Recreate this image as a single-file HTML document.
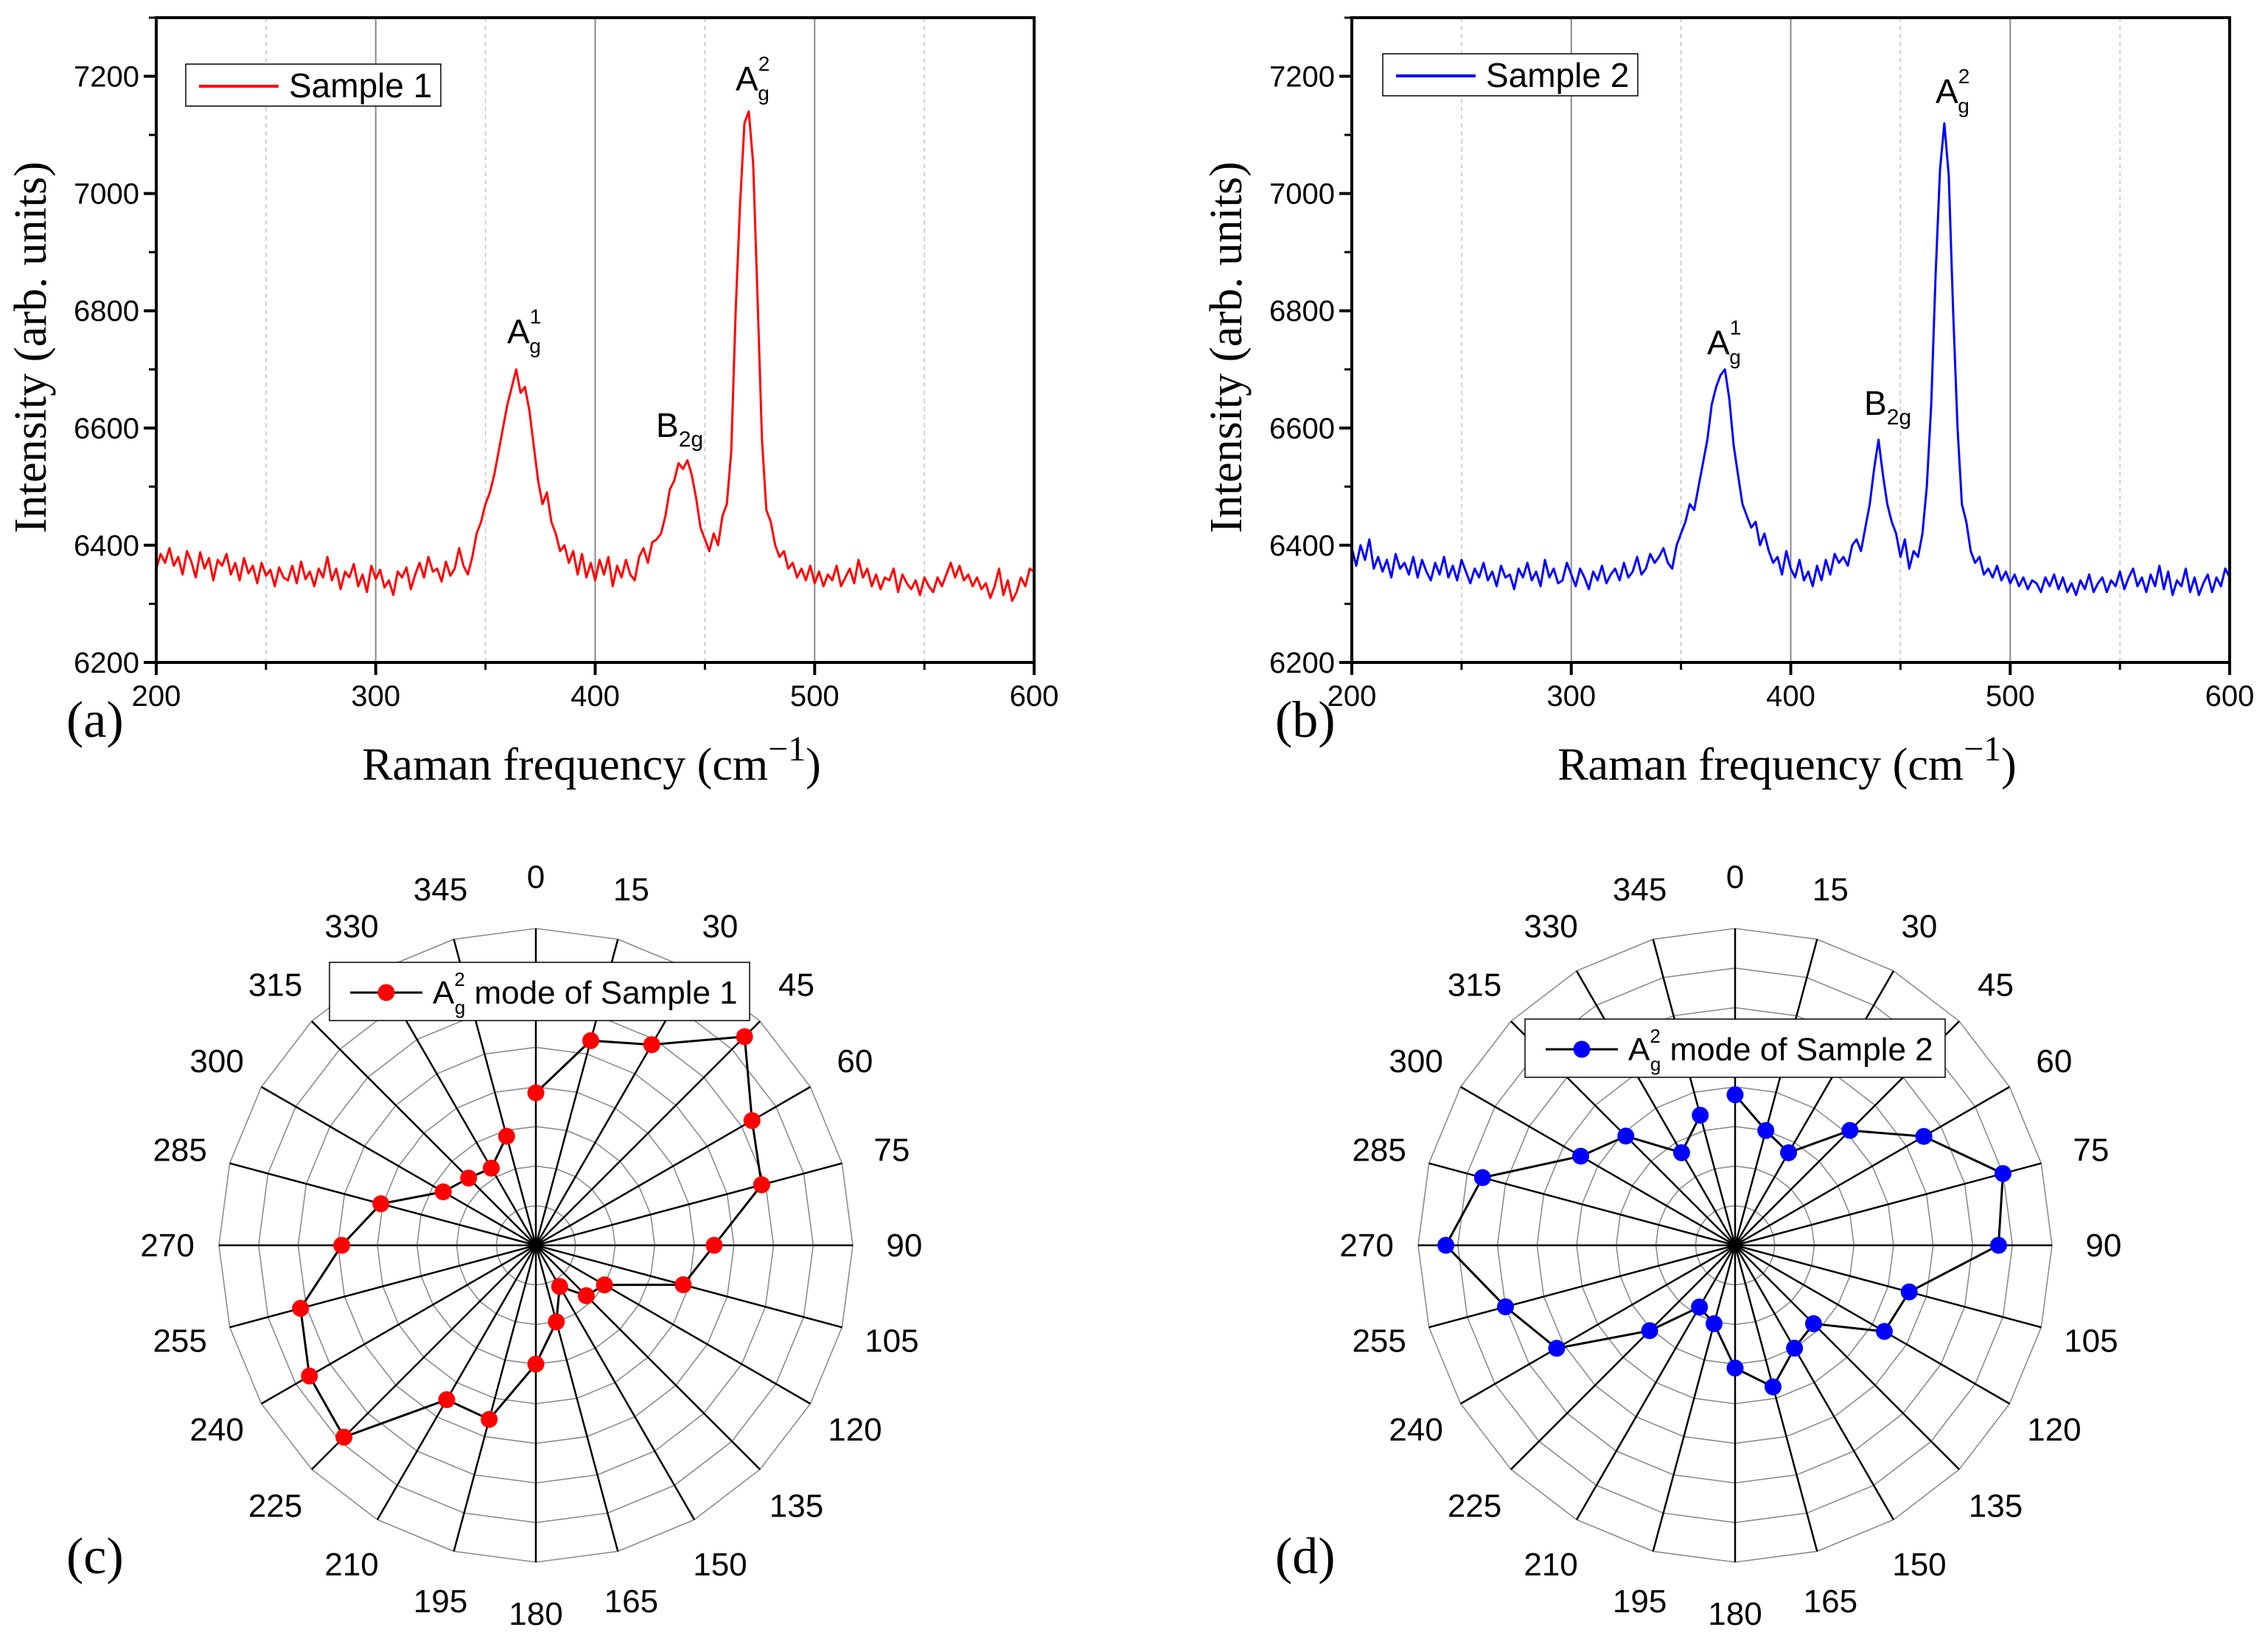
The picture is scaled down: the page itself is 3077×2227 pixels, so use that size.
<!DOCTYPE html>
<html><head><meta charset="utf-8"><style>
html,body{margin:0;padding:0;background:#fff;}
svg{display:block;}
text{font-family:"Liberation Sans",sans-serif;fill:#000;}
.serif{font-family:"Liberation Serif",serif;}
</style></head><body>
<svg id="fig" width="3077" height="2227" viewBox="0 0 3077 2227" xmlns="http://www.w3.org/2000/svg"></svg>
<script>
// ---------- data ----------
const xStart = 200, xStep = 2;
const sample1 = [
6360,6385,6370,6395,6365,6380,6350,6390,6372,6345,6388,6360,6378,6340,6375,6365,6385,6350,6370,6340,
6378,6352,6365,6335,6370,6348,6358,6330,6362,6345,6340,6365,6335,6372,6342,6355,6330,6360,6345,6380,
6340,6360,6325,6355,6345,6368,6330,6350,6320,6365,6342,6358,6328,6340,6315,6355,6345,6362,6325,6350,
6370,6345,6380,6355,6360,6338,6372,6348,6360,6395,6365,6350,6380,6420,6440,6470,6490,6520,6560,6600,
6640,6670,6700,6660,6670,6630,6570,6510,6470,6490,6440,6420,6390,6400,6370,6390,6350,6385,6345,6370,
6340,6375,6350,6380,6330,6365,6345,6375,6350,6340,6380,6395,6370,6405,6410,6420,6450,6495,6510,6540,
6530,6545,6520,6480,6430,6410,6390,6420,6400,6450,6470,6560,6800,6980,7120,7140,7050,6820,6580,6460,
6440,6400,6380,6390,6360,6370,6345,6360,6340,6365,6335,6355,6330,6350,6340,6365,6330,6345,6360,6335,
6375,6345,6360,6330,6350,6325,6345,6340,6360,6320,6350,6335,6325,6340,6315,6345,6330,6320,6345,6330,
6350,6370,6345,6365,6340,6350,6330,6345,6325,6335,6310,6330,6360,6315,6340,6305,6320,6345,6330,6360,
6355];
const sample2 = [
6395,6365,6400,6375,6410,6360,6380,6355,6375,6345,6385,6360,6370,6350,6380,6345,6375,6355,6340,6370,
6350,6380,6345,6365,6340,6375,6355,6335,6360,6345,6370,6340,6355,6330,6365,6345,6350,6325,6360,6345,
6370,6340,6355,6330,6375,6345,6360,6335,6340,6370,6350,6330,6360,6345,6325,6355,6340,6365,6335,6350,
6360,6340,6370,6345,6355,6380,6350,6360,6385,6370,6380,6395,6370,6360,6400,6420,6440,6470,6460,6500,
6540,6580,6640,6670,6690,6700,6650,6570,6520,6470,6450,6430,6440,6400,6420,6390,6370,6380,6350,6390,
6360,6345,6375,6340,6355,6330,6365,6340,6375,6350,6385,6370,6380,6365,6400,6410,6390,6430,6470,6530,
6580,6520,6470,6440,6420,6380,6410,6360,6390,6380,6420,6500,6640,6860,7040,7120,7030,6800,6600,6470,
6440,6390,6370,6380,6350,6360,6345,6365,6340,6355,6335,6350,6330,6345,6325,6340,6335,6320,6345,6330,
6350,6325,6345,6320,6335,6315,6340,6325,6350,6320,6335,6345,6320,6340,6330,6355,6325,6345,6360,6330,
6345,6320,6350,6330,6365,6325,6355,6315,6340,6330,6360,6320,6345,6315,6335,6350,6320,6345,6330,6360,
6345];
const xTicks = [200,300,400,500,600];
const yTicks = [6200,6400,6600,6800,7000,7200];
const polarAngles = [0,15,30,45,60,75,90,105,120,135,150,165,180,195,210,225,240,255,270,285,300,315,330,345];
const polarC = [3.85,5.35,5.85,7.45,6.3,5.9,4.5,3.85,2.0,1.8,1.2,2.0,3.0,4.55,4.5,6.85,6.6,6.15,4.9,4.05,2.7,2.4,2.25,2.85];
const polarD = [3.8,3.0,2.7,4.1,5.5,7.0,6.65,4.55,4.35,2.8,3.0,3.7,3.1,2.05,1.8,3.05,5.2,6.0,7.3,6.6,4.5,3.9,2.7,3.4];

// ---------- helpers ----------
const NS = "http://www.w3.org/2000/svg";
const svg = document.getElementById('fig');
function mk(tag, attrs, parent, txt){
  const e = document.createElementNS(NS, tag);
  for (const k in attrs) e.setAttribute(k, attrs[k]);
  if (txt !== undefined) e.textContent = txt;
  (parent||svg).appendChild(e);
  return e;
}

function spectrum(cfg){
  const g = mk('g', {});
  
  
  const L=cfg.L,R=cfg.R,T=cfg.T,B=cfg.B;
  const sx = v => L + (v-200)/(600-200)*(R-L);
  const sy = v => B - (v-6200)/(7300-6200)*(B-T);
  [300,400,500].forEach(v=>{
    const l = mk('line',{x1:sx(v),x2:sx(v),y1:T,y2:B,stroke:'#8a8a8a','stroke-width':2},g);
    
    
  });
  [250,350,450,550].forEach(v=>{
    const l = mk('line',{x1:sx(v),x2:sx(v),y1:T,y2:B,stroke:'#c4c4c4','stroke-width':1.5,'stroke-dasharray':'6 5'},g);
    
    
  });
  let d='';
  cfg.data.forEach((v,i)=>{ d += (i?'L':'M') + sx(xStart+i*xStep).toFixed(1)+','+sy(v).toFixed(1); });
  const p = mk('path',{d:d,fill:'none',stroke:cfg.color,'stroke-width':3,'stroke-linejoin':'round'},g);
  
  
  const fr = mk('rect',{x:L,y:T,width:R-L,height:B-T,fill:'none',stroke:'#000','stroke-width':4},g);
  
  
  for (let v=200; v<=600; v+=50){
    const major = v%100===0;
    mk('line',{x1:sx(v),x2:sx(v),y1:B,y2:B+(major?17:10),stroke:'#000','stroke-width':major?4:3},g);
  }
  xTicks.forEach(v=>{
    const t = mk('text',{x:sx(v),y:B+59,'font-size':40,'text-anchor':'middle'},g,String(v));
    
    
  });
  for (let v=6200; v<=7300; v+=100){
    const major = v%200===0;
    mk('line',{x1:L,x2:L-(major?17:10),y1:sy(v),y2:sy(v),stroke:'#000','stroke-width':major?4:3},g);
  }
  yTicks.forEach(v=>{
    const t = mk('text',{x:L-23,y:sy(v)+14,'font-size':40,'text-anchor':'end'},g,String(v));
    
    
  });
  const yt = mk('text',{x:0,y:0,'font-size':62,'text-anchor':'middle','class':'serif',transform:`translate(${cfg.yTitleX},${(T+B)/2+10}) rotate(-90)`},g,'Intensity (arb. units)');
  
  
  const xt = mk('text',{x:(L+R)/2-5,y:1058,'font-size':62,'text-anchor':'middle','class':'serif'},g);
  
  
  mk('tspan',{},xt,'Raman frequency (cm');
  mk('tspan',{dy:-26,'font-size':48},xt,'\u22121');
  mk('tspan',{dy:26},xt,')');
  const pl = mk('text',{x:cfg.panelX,y:1000,'font-size':70,'class':'serif'},g,cfg.panel);
  
  
  const lg = mk('g',{},g);
  
  
  mk('rect',{x:cfg.legX,y:cfg.legY,width:346,height:57,fill:'#fff',stroke:'#000','stroke-width':1.5},lg);
  mk('line',{x1:cfg.legX+18,x2:cfg.legX+126,y1:cfg.legY+30,y2:cfg.legY+30,stroke:cfg.color,'stroke-width':4},lg);
  const lt = mk('text',{x:cfg.legX+140,y:cfg.legY+45,'font-size':46},lg,cfg.legText);
  
  
  cfg.peaks.forEach(pk=>{
    const t = mk('text',{x:pk.x,y:pk.y,'font-size':46},g);
    
    
    mk('tspan',{},t,pk.main);
    if (pk.sup){
      mk('tspan',{dy:-27,'font-size':28},t,pk.sup);
      mk('tspan',{dx:-16,dy:40,'font-size':28},t,pk.sub);
    } else {
      mk('tspan',{dy:13,'font-size':30},t,pk.sub);
    }
  });
}

spectrum({name:'spectrum-panel-a',seriesName:'sample-1-line',data:sample1,color:'#ff0000',L:212,R:1403,T:24,B:899,
  yTitleX:62,panelX:90,panel:'(a)',legX:252,legY:87,legText:'Sample 1',
  peaks:[{x:688,y:466,main:'A',sup:'1',sub:'g'},{x:890,y:593,main:'B',sub:'2g'},{x:998,y:123,main:'A',sup:'2',sub:'g'}]});
spectrum({name:'spectrum-panel-b',seriesName:'sample-2-line',data:sample2,color:'#0000ff',L:1834,R:3025,T:24,B:899,
  yTitleX:1684,panelX:1730,panel:'(b)',legX:1876,legY:73,legText:'Sample 2',
  peaks:[{x:2316,y:481,main:'A',sup:'1',sub:'g'},{x:2529,y:563,main:'B',sub:'2g'},{x:2626,y:140,main:'A',sup:'2',sub:'g'}]});

function polar(cfg){
  const g = mk('g',{});
  
  
  const cx=cfg.cx, cy=cfg.cy, R=430, rMax=8;
  const pt = (a,r)=>{ const t=a*Math.PI/180; return [cx+Math.sin(t)*r/rMax*R, cy-Math.cos(t)*r/rMax*R]; };
  for (let k=1;k<=8;k++){
    let d='';
    polarAngles.forEach((a,i)=>{ const p=pt(a,k); d+=(i?'L':'M')+p[0].toFixed(1)+','+p[1].toFixed(1); });
    const ring = mk('path',{d:d+'Z',fill:'none',stroke:'#8c8c8c','stroke-width':1.6},g);
    
    
  }
  polarAngles.forEach(a=>{
    const p=pt(a,8);
    const s = mk('line',{x1:cx,y1:cy,x2:p[0],y2:p[1],stroke:'#000','stroke-width':2.5},g);
    
    
    const q=pt(a,9.3);
    const t = mk('text',{x:q[0],y:q[1]+15,'font-size':44,'text-anchor':'middle'},g,String(a));
    
    
  });
  let d='';
  cfg.data.forEach((v,i)=>{ const p=pt(polarAngles[i],v); d+=(i?'L':'M')+p[0].toFixed(1)+','+p[1].toFixed(1); });
  const ln = mk('path',{d:d,fill:'none',stroke:'#000','stroke-width':3},g);
  
  
  cfg.data.forEach((v,i)=>{
    const p=pt(polarAngles[i],v);
    const c = mk('circle',{cx:p[0],cy:p[1],r:11.5,fill:cfg.color},g);
    
    
  });
  const lg = mk('g',{},g);
  
  
  mk('rect',{x:cfg.legX,y:cfg.legY,width:570,height:79,fill:'#fff',stroke:'#000','stroke-width':1.5},lg);
  mk('line',{x1:cfg.legX+28,x2:cfg.legX+126,y1:cfg.legY+41,y2:cfg.legY+41,stroke:'#000','stroke-width':3},lg);
  mk('circle',{cx:cfg.legX+77,cy:cfg.legY+41,r:11.5,fill:cfg.color},lg);
  const t = mk('text',{x:cfg.legX+140,y:cfg.legY+56,'font-size':44},lg);
  
  
  mk('tspan',{},t,'A');
  mk('tspan',{dy:-24,'font-size':26},t,'2');
  mk('tspan',{dx:-14,dy:38,'font-size':26},t,'g');
  mk('tspan',{dy:-14},t,' mode of '+cfg.legText);
  const pl = mk('text',{x:cfg.panelX,y:2135,'font-size':70,'class':'serif'},g,cfg.panel);
  
  
}
polar({name:'polar-panel-c',cx:727,cy:1690,data:polarC,color:'#ff0000',legX:447,legY:1306,legText:'Sample 1',panelX:90,panel:'(c)'});
polar({name:'polar-panel-d',cx:2354,cy:1690,data:polarD,color:'#0000ff',legX:2069,legY:1383,legText:'Sample 2',panelX:1730,panel:'(d)'});
</script>
</body></html>
